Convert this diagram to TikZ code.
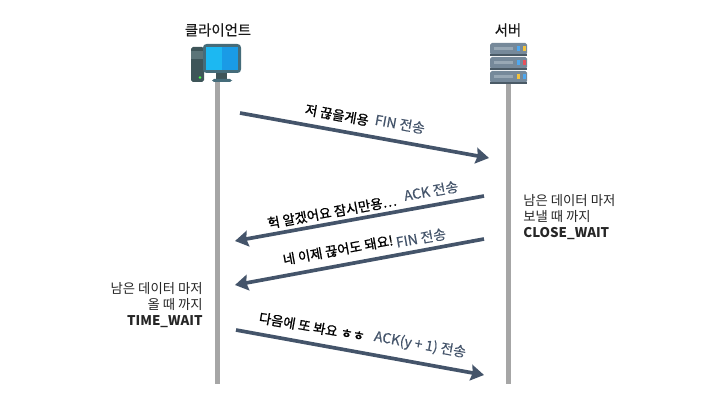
\documentclass[tikz,border=0pt]{standalone}
\usepackage{fontspec}
\setmainfont{Noto Sans CJK KR}
\newfontfamily\talkfont[FakeBold=1.1]{Noto Sans CJK KR}
\newfontfamily\signalfont[FakeBold=0.45]{Noto Sans CJK KR}
\usetikzlibrary{arrows.meta}
\definecolor{msgblue}{HTML}{44546A}
\definecolor{lifegray}{HTML}{A6A6A6}
\definecolor{towerdark}{HTML}{3E5559}
\definecolor{towerband}{HTML}{5B7478}
\definecolor{monframe}{HTML}{456C7A}
\definecolor{screenl}{HTML}{1CB8F2}
\definecolor{screenr}{HTML}{1A9BE6}
\definecolor{rackbody}{HTML}{76899A}
\definecolor{rackdark}{HTML}{4A5A66}
\definecolor{rackslot}{HTML}{98A8B5}
\definecolor{lampblue}{HTML}{4FA8F0}
\definecolor{lampyel}{HTML}{F2C23E}
\definecolor{lampred}{HTML}{E8505B}
\tikzset{
  title/.style    = {font=\signalfont\fontsize{8.2}{10}\selectfont, text=black!90},
  talk/.style     = {font=\talkfont\fontsize{7.6}{9}\selectfont, inner sep=0pt, text=black},
  signal/.style   = {font=\signalfont\fontsize{7.9}{9}\selectfont, inner sep=0pt, text=msgblue},
  waitnote/.style = {font=\fontsize{7.6}{9.07}\selectfont, inner sep=0pt, text=black!85},
  lifeline/.style = {draw=lifegray, line width=2.84pt},
  message/.style  = {draw=msgblue, line width=2.1pt, -{Stealth[length=7.5pt,width=9pt,inset=1pt]}}
}

\begin{document}
\begin{tikzpicture}[x=0.02cm,y=-0.02cm]
\useasboundingbox (0,0) rectangle (720,405);

\node[title] (client) at (218,30) {클라이언트};
\node[title] (server) at (508,30) {서버};

\coordinate (clienttop) at (217.5,80);
\coordinate (clientend) at (217.5,384);
\coordinate (servertop) at (508.5,80);
\coordinate (serverend) at (508.5,384);
\draw[lifeline] (clienttop) -- (clientend);
\draw[lifeline] (servertop) -- (serverend);

% computer
\fill[rounded corners=1pt, fill=towerdark] (191,47) rectangle (204,82);
\fill[fill=towerband] (191,51) rectangle (204,59);
\fill[green!70!white] (200,77.5) circle (1.4);
\fill[fill=towerdark] (216,73) rectangle (227,79);
\fill[rounded corners=1pt, fill=monframe] (212,79) rectangle (232,82);
\fill[rounded corners=2pt, fill=monframe] (203,44) rectangle (241,73);
\fill[fill=screenl] (206,47) rectangle (222,70);
\fill[fill=screenr] (222,47) rectangle (238,70);

% server
\foreach \y/\lampa/\lampb in {43/lampblue/lampyel,
                              57/lampblue/lampred,
                              71/lampyel/lampblue} {
  \fill[rounded corners=1pt, fill=rackbody] (490,\y) rectangle (527,\y+12);
  \fill[fill=rackdark] (490,\y+11) rectangle (527,\y+13);
  \fill[fill=rackslot] (494,\y+4) rectangle (513,\y+7);
  \fill[\lampa] (517,\y+3) rectangle (520,\y+8);
  \fill[\lampb] (522.5,\y+3) rectangle (525.5,\y+8);
}

\coordinate (finstart) at (240,113);
\coordinate (finend)   at (489,158);
\coordinate (ackstart) at (484,196);
\coordinate (ackend)   at (235,241);
\coordinate (fintwostart) at (484,239);
\coordinate (fintwoend)   at (235,285);
\coordinate (lastart)  at (236,330);
\coordinate (lastend)  at (484,375);
\draw[message] (finstart) -- (finend);
\draw[message] (ackstart) -- (ackend);
\draw[message] (fintwostart) -- (fintwoend);
\draw[message] (lastart) -- (lastend);

\node[talk, rotate=-10.2]   (bye)    at (337,115) {저 끊을게용};
\node[signal, rotate=-10.2] (fin)    at (400,124) {FIN 전송};
\node[talk, rotate=10.2]    (wait)   at (332,212) {헉 알겠어요 잠시만용…};
\node[signal, rotate=10.2]  (ack)    at (431,191) {ACK 전송};
\node[talk, rotate=10.2]    (okay)   at (338,250) {네 이제 끊어도 돼요!};
\node[signal, rotate=10.2]  (fintwo) at (421,238) {FIN 전송};
\node[talk, rotate=-10.2]   (later)  at (312,327) {다음에 또 봐요 ㅎㅎ};
\node[signal, rotate=-10.2] (acklast) at (420,345) {ACK(y + 1) 전송};

\node[waitnote, anchor=east, align=right] (timewait) at (203,305)
  {남은 데이터 마저\\올 때 까지\\\textbf{TIME\_WAIT}};
\node[waitnote, anchor=west, align=left] (closewait) at (523,217.5)
  {남은 데이터 마저\\보낼 때 까지\\\textbf{CLOSE\_WAIT}};
\end{tikzpicture}
\end{document}
